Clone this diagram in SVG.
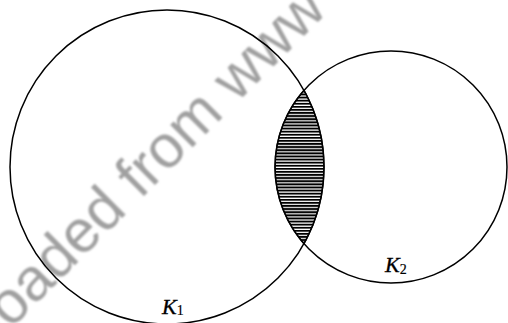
<svg xmlns="http://www.w3.org/2000/svg" width="508" height="323" viewBox="0 0 508 323">
  <style>
    .circ { fill: none; stroke: #000; stroke-width: 1.5; }
    .lbl { font-family: "Liberation Serif", "Times New Roman", serif; font-style: italic; fill: #000; stroke: #000; stroke-width: 0.35; }
    .sub { font-family: "Liberation Serif", "Times New Roman", serif; font-style: normal; fill: #000; stroke-width: 0.2; }
    .wm { font-family: "Liberation Sans", Arial, sans-serif; fill: #a0a0a0; }
  </style>
  <defs>
    <pattern id="hatch" patternUnits="userSpaceOnUse" x="0" y="0.5" width="20" height="3.1">
      <rect x="0" y="0" width="20" height="1.9" fill="#000"/>
    </pattern>
    <filter id="soft" x="-5%" y="-5%" width="110%" height="110%">
      <feGaussianBlur stdDeviation="1.1"/>
    </filter>
  </defs>
  <rect width="508" height="323" fill="#fff"/>

  <g id="watermark" filter="url(#soft)">
    <text class="wm" x="1" y="339" font-size="60" transform="rotate(-45 1 339)">loaded from www</text>
  </g>

  <g id="lens">
    <path d="M304,90.3 A116,116 0 0 0 304,243.7 A157,157 0 0 0 304,90.3 Z" fill="url(#hatch)" stroke="#000" stroke-width="1.3"/>
  </g>

  <g id="K1">
    <circle class="circ" cx="167" cy="167" r="157"/>
    <text class="lbl" x="162" y="314" font-size="22">K<tspan class="sub" font-size="14" dy="1">1</tspan></text>
  </g>

  <g id="K2">
    <circle class="circ" cx="391" cy="167" r="116"/>
    <text class="lbl" x="385" y="272" font-size="22">K<tspan class="sub" font-size="14" dy="2">2</tspan></text>
  </g>

  <g id="connectors"/>
</svg>
